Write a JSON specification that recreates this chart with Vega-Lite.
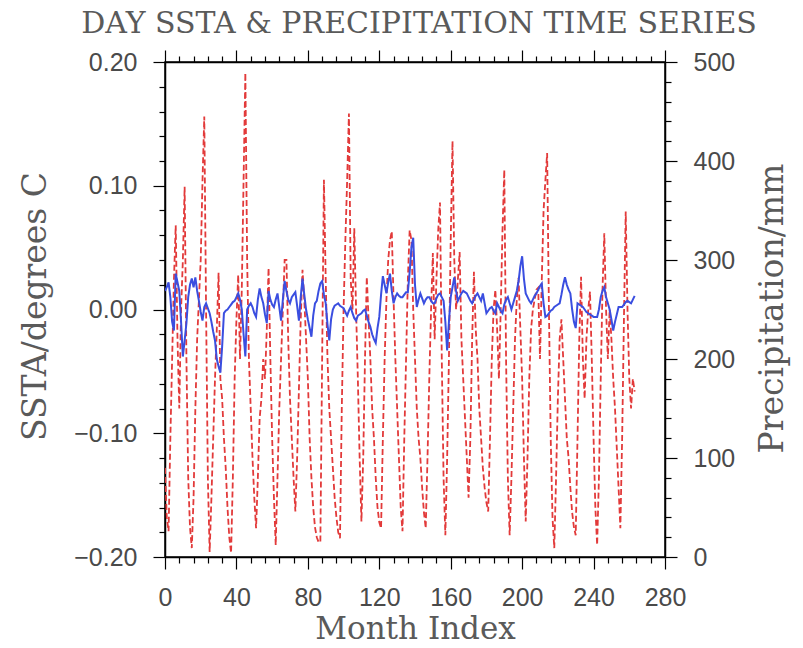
{
  "$schema": "https://vega.github.io/schema/vega-lite/v6.json",
  "width": 500,
  "height": 495,
  "autosize": {"type": "none"},
  "padding": {"left": 165, "top": 62, "right": 138, "bottom": 91},
  "background": "white",
  "config": {"view": {"stroke": "black", "strokeWidth": 1.5}},
  "title": {"text": "DAY SSTA & PRECIPITATION TIME SERIES", "frame": "group", "anchor": "middle", "offset": 10, "dx": 4, "font": "DejaVu Serif", "fontSize": 30, "fontWeight": "normal", "color": "#5a5a5a"},
  "datasets": {
    "series": [
      {"m":0,"s":0.015,"p":90},{"m":1,"s":0.018,"p":40},{"m":2,"s":0.022,"p":26},{"m":3,"s":0.010,"p":120},{"m":4,"s":-0.010,"p":200},{"m":5,"s":-0.017,"p":280},{"m":6,"s":0.029,"p":335},{"m":7,"s":0.022,"p":220},{"m":8,"s":0.015,"p":150},{"m":9,"s":-0.010,"p":250},
      {"m":10,"s":-0.038,"p":300},{"m":11,"s":-0.025,"p":374},{"m":12,"s":-0.011,"p":200},{"m":13,"s":0.010,"p":80},{"m":14,"s":0.020,"p":30},{"m":15,"s":0.025,"p":9},{"m":16,"s":0.018,"p":60},{"m":17,"s":0.026,"p":150},{"m":18,"s":0.015,"p":220},{"m":19,"s":0.007,"p":260},
      {"m":20,"s":-0.002,"p":300},{"m":21,"s":-0.009,"p":380},{"m":22,"s":0.002,"p":445},{"m":23,"s":0.005,"p":250},{"m":24,"s":0.001,"p":80},{"m":25,"s":-0.003,"p":5},{"m":26,"s":-0.010,"p":60},{"m":27,"s":-0.018,"p":120},{"m":28,"s":-0.025,"p":180},{"m":29,"s":-0.040,"p":230},
      {"m":30,"s":-0.046,"p":287},{"m":31,"s":-0.051,"p":180},{"m":32,"s":-0.030,"p":160},{"m":33,"s":-0.003,"p":120},{"m":34,"s":-0.001,"p":90},{"m":35,"s":0.000,"p":50},{"m":36,"s":0.002,"p":20},{"m":37,"s":0.004,"p":4},{"m":38,"s":0.006,"p":80},{"m":39,"s":0.007,"p":180},
      {"m":40,"s":0.010,"p":240},{"m":41,"s":0.013,"p":285},{"m":42,"s":0.008,"p":200},{"m":43,"s":0.000,"p":270},{"m":44,"s":-0.020,"p":380},{"m":45,"s":-0.038,"p":489},{"m":46,"s":0.000,"p":300},{"m":47,"s":0.003,"p":200},{"m":48,"s":0.005,"p":150},{"m":49,"s":0.002,"p":100},
      {"m":50,"s":-0.003,"p":60},{"m":51,"s":-0.006,"p":29},{"m":52,"s":0.008,"p":80},{"m":53,"s":0.017,"p":140},{"m":54,"s":0.010,"p":160},{"m":55,"s":0.005,"p":200},{"m":56,"s":-0.004,"p":180},{"m":57,"s":-0.011,"p":230},{"m":58,"s":0.015,"p":292},{"m":59,"s":0.008,"p":200},
      {"m":60,"s":0.004,"p":120},{"m":61,"s":0.002,"p":60},{"m":62,"s":0.008,"p":12},{"m":63,"s":0.013,"p":80},{"m":64,"s":0.002,"p":150},{"m":65,"s":-0.009,"p":200},{"m":66,"s":0.008,"p":250},{"m":67,"s":0.023,"p":300},{"m":68,"s":0.015,"p":300},{"m":69,"s":0.008,"p":220},
      {"m":70,"s":0.005,"p":160},{"m":71,"s":0.010,"p":120},{"m":72,"s":0.012,"p":80},{"m":73,"s":0.014,"p":46},{"m":74,"s":0.003,"p":100},{"m":75,"s":-0.009,"p":170},{"m":76,"s":0.010,"p":240},{"m":77,"s":0.025,"p":290},{"m":78,"s":0.012,"p":260},{"m":79,"s":0.000,"p":220},
      {"m":80,"s":-0.008,"p":180},{"m":81,"s":-0.015,"p":120},{"m":82,"s":-0.022,"p":80},{"m":83,"s":-0.005,"p":50},{"m":84,"s":0.005,"p":30},{"m":85,"s":0.007,"p":20},{"m":86,"s":0.015,"p":15},{"m":87,"s":0.021,"p":15},{"m":88,"s":0.023,"p":200},{"m":89,"s":0.012,"p":381},
      {"m":90,"s":0.005,"p":280},{"m":91,"s":-0.012,"p":200},{"m":92,"s":-0.025,"p":150},{"m":93,"s":-0.008,"p":120},{"m":94,"s":0.000,"p":90},{"m":95,"s":0.003,"p":60},{"m":96,"s":0.004,"p":40},{"m":97,"s":0.005,"p":25},{"m":98,"s":0.003,"p":19},{"m":99,"s":0.002,"p":150},
      {"m":100,"s":0.001,"p":250},{"m":101,"s":-0.002,"p":320},{"m":102,"s":-0.005,"p":380},{"m":103,"s":-0.001,"p":448},{"m":104,"s":0.002,"p":280},{"m":105,"s":-0.003,"p":250},{"m":106,"s":-0.007,"p":332},{"m":107,"s":-0.009,"p":250},{"m":108,"s":-0.005,"p":180},{"m":109,"s":-0.004,"p":100},
      {"m":110,"s":-0.003,"p":36},{"m":111,"s":-0.001,"p":100},{"m":112,"s":0.000,"p":200},{"m":113,"s":-0.005,"p":283},{"m":114,"s":-0.010,"p":240},{"m":115,"s":-0.014,"p":200},{"m":116,"s":-0.020,"p":150},{"m":117,"s":-0.024,"p":120},{"m":118,"s":-0.027,"p":80},{"m":119,"s":-0.015,"p":50},
      {"m":120,"s":-0.006,"p":35},{"m":121,"s":0.012,"p":29},{"m":122,"s":0.027,"p":120},{"m":123,"s":0.020,"p":200},{"m":124,"s":0.013,"p":260},{"m":125,"s":0.022,"p":300},{"m":126,"s":0.029,"p":320},{"m":127,"s":0.015,"p":329},{"m":128,"s":0.005,"p":260},{"m":129,"s":0.010,"p":200},
      {"m":130,"s":0.013,"p":150},{"m":131,"s":0.011,"p":100},{"m":132,"s":0.010,"p":50},{"m":133,"s":0.010,"p":26},{"m":134,"s":0.012,"p":120},{"m":135,"s":0.014,"p":200},{"m":136,"s":0.014,"p":280},{"m":137,"s":0.030,"p":330},{"m":138,"s":0.050,"p":320},{"m":139,"s":0.058,"p":250},
      {"m":140,"s":0.020,"p":200},{"m":141,"s":0.002,"p":150},{"m":142,"s":0.008,"p":120},{"m":143,"s":0.013,"p":100},{"m":144,"s":0.009,"p":70},{"m":145,"s":0.005,"p":45},{"m":146,"s":0.008,"p":29},{"m":147,"s":0.010,"p":100},{"m":148,"s":0.010,"p":180},{"m":149,"s":0.007,"p":250},
      {"m":150,"s":0.005,"p":307},{"m":151,"s":0.005,"p":220},{"m":152,"s":0.009,"p":280},{"m":153,"s":0.012,"p":330},{"m":154,"s":0.013,"p":358},{"m":155,"s":0.010,"p":200},{"m":156,"s":0.007,"p":80},{"m":157,"s":-0.010,"p":22},{"m":158,"s":-0.033,"p":100},{"m":159,"s":-0.010,"p":200},
      {"m":160,"s":0.010,"p":320},{"m":161,"s":0.018,"p":420},{"m":162,"s":0.026,"p":300},{"m":163,"s":0.015,"p":250},{"m":164,"s":0.007,"p":280},{"m":165,"s":0.010,"p":308},{"m":166,"s":0.013,"p":220},{"m":167,"s":0.015,"p":180},{"m":168,"s":0.014,"p":140},{"m":169,"s":0.013,"p":100},
      {"m":170,"s":0.010,"p":60},{"m":171,"s":0.007,"p":120},{"m":172,"s":0.005,"p":220},{"m":173,"s":0.008,"p":288},{"m":174,"s":0.011,"p":230},{"m":175,"s":0.013,"p":200},{"m":176,"s":0.010,"p":150},{"m":177,"s":0.007,"p":120},{"m":178,"s":0.013,"p":90},{"m":179,"s":0.005,"p":70},
      {"m":180,"s":-0.003,"p":55},{"m":181,"s":-0.001,"p":46},{"m":182,"s":0.001,"p":120},{"m":183,"s":0.002,"p":200},{"m":184,"s":-0.001,"p":250},{"m":185,"s":-0.003,"p":270},{"m":186,"s":0.005,"p":230},{"m":187,"s":0.002,"p":180},{"m":188,"s":-0.001,"p":250},{"m":189,"s":-0.003,"p":330},
      {"m":190,"s":0.004,"p":391},{"m":191,"s":0.008,"p":200},{"m":192,"s":0.010,"p":80},{"m":193,"s":0.005,"p":22},{"m":194,"s":0.000,"p":80},{"m":195,"s":0.005,"p":150},{"m":196,"s":0.010,"p":220},{"m":197,"s":0.015,"p":260},{"m":198,"s":0.023,"p":282},{"m":199,"s":0.035,"p":230},
      {"m":200,"s":0.043,"p":180},{"m":201,"s":0.025,"p":100},{"m":202,"s":0.013,"p":36},{"m":203,"s":0.010,"p":100},{"m":204,"s":0.007,"p":180},{"m":205,"s":0.005,"p":230},{"m":206,"s":0.008,"p":250},{"m":207,"s":0.011,"p":260},{"m":208,"s":0.013,"p":270},{"m":209,"s":0.016,"p":272},
      {"m":210,"s":0.019,"p":200},{"m":211,"s":0.021,"p":280},{"m":212,"s":0.005,"p":350},{"m":213,"s":-0.006,"p":380},{"m":214,"s":-0.005,"p":408},{"m":215,"s":-0.003,"p":250},{"m":216,"s":-0.001,"p":120},{"m":217,"s":0.000,"p":40},{"m":218,"s":0.002,"p":9},{"m":219,"s":0.003,"p":80},
      {"m":220,"s":0.004,"p":160},{"m":221,"s":0.005,"p":220},{"m":222,"s":0.012,"p":240},{"m":223,"s":0.020,"p":200},{"m":224,"s":0.026,"p":160},{"m":225,"s":0.020,"p":120},{"m":226,"s":0.016,"p":100},{"m":227,"s":0.013,"p":70},{"m":228,"s":0.000,"p":45},{"m":229,"s":-0.010,"p":30},
      {"m":230,"s":-0.015,"p":22},{"m":231,"s":0.005,"p":120},{"m":232,"s":0.004,"p":220},{"m":233,"s":0.003,"p":283},{"m":234,"s":0.002,"p":200},{"m":235,"s":0.000,"p":160},{"m":236,"s":-0.002,"p":220},{"m":237,"s":-0.003,"p":250},{"m":238,"s":-0.004,"p":268},{"m":239,"s":-0.005,"p":200},
      {"m":240,"s":-0.006,"p":120},{"m":241,"s":-0.006,"p":50},{"m":242,"s":-0.006,"p":12},{"m":243,"s":0.000,"p":80},{"m":244,"s":0.010,"p":180},{"m":245,"s":0.015,"p":270},{"m":246,"s":0.018,"p":327},{"m":247,"s":0.010,"p":250},{"m":248,"s":0.005,"p":200},{"m":249,"s":0.000,"p":250},
      {"m":250,"s":-0.008,"p":220},{"m":251,"s":-0.017,"p":180},{"m":252,"s":-0.010,"p":150},{"m":253,"s":-0.004,"p":110},{"m":254,"s":0.002,"p":70},{"m":255,"s":0.002,"p":29},{"m":256,"s":0.002,"p":120},{"m":257,"s":0.004,"p":240},{"m":258,"s":0.006,"p":349},{"m":259,"s":0.007,"p":250},
      {"m":260,"s":0.006,"p":180},{"m":261,"s":0.005,"p":150},{"m":262,"s":0.008,"p":180},{"m":263,"s":0.011,"p":167}
    ]
  },
  "data": {"name": "series"},
  "layer": [
    {
      "mark": {"type": "line", "color": "#e23a3a", "strokeWidth": 1.8, "strokeDash": [6, 3], "clip": true},
      "encoding": {
        "x": {"field": "m", "type": "quantitative", "scale": {"domain": [0, 280], "nice": false},
          "axis": {"orient": "bottom", "title": "Month Index", "values": [0,8,16,24,32,40,48,56,64,72,80,88,96,104,112,120,128,136,144,152,160,168,176,184,192,200,208,216,224,232,240,248,256,264,272,280],
            "labelExpr": "datum.value % 40 == 0 ? datum.label : ''", "format": "d",
            "tickSize": {"condition": {"test": "datum.value % 40 == 0", "value": 12}, "value": 6},
            "labelPadding": 16, "labelFont": "Liberation Sans", "labelFontSize": 25, "labelColor": "#4a4a4a",
            "titleFont": "DejaVu Serif", "titleFontSize": 31, "titleFontWeight": "normal", "titleColor": "#5a5a5a",
            "titleX": 250, "titleY": 72, "titleBaseline": "middle",
            "domainColor": "black", "domainWidth": 1.5, "tickColor": "black", "tickWidth": 1.2, "grid": false, "labelOverlap": false, "labelFlush": false}},
        "y": {"field": "p", "type": "quantitative", "scale": {"domain": [0, 500], "nice": false},
          "axis": {"orient": "right", "title": "Precipitation/mm", "values": [0,20,40,60,80,100,120,140,160,180,200,220,240,260,280,300,320,340,360,380,400,420,440,460,480,500],
            "labelExpr": "datum.value % 100 == 0 ? datum.label : ''", "format": "d",
            "tickSize": {"condition": {"test": "datum.value % 100 == 0", "value": 12}, "value": 6},
            "labelPadding": 16, "labelFont": "Liberation Sans", "labelFontSize": 25, "labelColor": "#4a4a4a",
            "titleFont": "DejaVu Serif", "titleFontSize": 33, "titleFontWeight": "normal", "titleColor": "#5a5a5a",
            "titleAngle": 270, "titleX": 107, "titleY": 246, "titleBaseline": "middle", "titleAlign": "center",
            "domainColor": "black", "domainWidth": 1.5, "tickColor": "black", "tickWidth": 1.2, "grid": false, "labelOverlap": false, "labelFlush": false}}
      }
    },
    {
      "mark": {"type": "line", "color": "#3a4ee0", "strokeWidth": 2, "clip": true},
      "encoding": {
        "x": {"field": "m", "type": "quantitative",
          "axis": {"orient": "top", "title": null, "labels": false, "values": [0,8,16,24,32,40,48,56,64,72,80,88,96,104,112,120,128,136,144,152,160,168,176,184,192,200,208,216,224,232,240,248,256,264,272,280],
            "tickSize": {"condition": {"test": "datum.value % 40 == 0", "value": 12}, "value": 6},
            "domainColor": "black", "domainWidth": 1.5, "tickColor": "black", "tickWidth": 1.2, "grid": false}},
        "y": {"field": "s", "type": "quantitative", "scale": {"domain": [-0.2, 0.2], "nice": false},
          "axis": {"orient": "left", "title": "SSTA/degrees C", "values": [-0.2,-0.18,-0.16,-0.14,-0.12,-0.1,-0.08,-0.06,-0.04,-0.02,0,0.02,0.04,0.06,0.08,0.1,0.12,0.14,0.16,0.18,0.2],
            "labelExpr": "abs(datum.value*10 - round(datum.value*10)) < 0.001 ? format(datum.value, '.2f') : ''",
            "tickSize": {"condition": {"test": "abs(datum.value*10 - round(datum.value*10)) < 0.001", "value": 12}, "value": 6},
            "labelPadding": 16, "labelFont": "Liberation Sans", "labelFontSize": 25, "labelColor": "#4a4a4a",
            "titleFont": "DejaVu Serif", "titleFontSize": 33, "titleFontWeight": "normal", "titleColor": "#5a5a5a",
            "titleAngle": 270, "titleX": -130, "titleY": 244, "titleBaseline": "middle", "titleAlign": "center",
            "domainColor": "black", "domainWidth": 1.5, "tickColor": "black", "tickWidth": 1.2, "grid": false, "labelOverlap": false, "labelFlush": false}}
      }
    }
  ],
  "resolve": {"scale": {"y": "independent"}, "axis": {"x": "independent", "y": "independent"}}
}
